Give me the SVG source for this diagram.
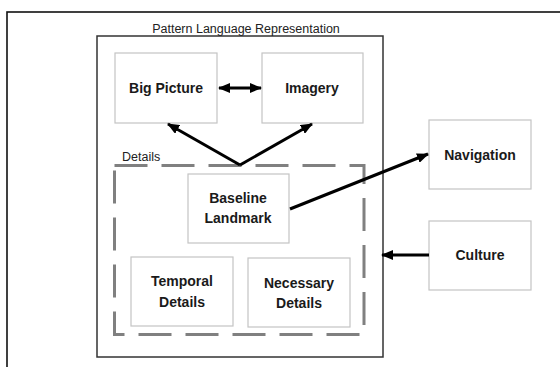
<svg xmlns="http://www.w3.org/2000/svg" width="560" height="367" viewBox="0 0 560 367">
<style>
.box{fill:#fff;stroke:#c4c4c4;stroke-width:1.2}
.lbl{font-family:"Liberation Sans",Arial,sans-serif;font-weight:bold;font-size:14px;fill:#1a1a1a;text-anchor:middle}
.small{font-family:"Liberation Sans",Arial,sans-serif;font-size:12.5px;fill:#222}
.conn{stroke:#000;stroke-width:3;fill:none}
</style>
<defs>
<marker id="ah" viewBox="0 0 12 10" refX="11" refY="5" markerWidth="12" markerHeight="10" markerUnits="userSpaceOnUse" orient="auto-start-reverse">
<path d="M0,0 L12,5 L0,10 Z" fill="#000"/>
</marker>
</defs>
<rect x="0" y="0" width="560" height="367" fill="#fff"/>
<g id="frame">
<rect x="7" y="12" width="600" height="400" fill="none" stroke="#111" stroke-width="1.6"/>
</g>
<g id="pattern-language">
<rect x="97" y="36" width="286" height="321" fill="none" stroke="#333" stroke-width="1.5"/>
<text class="small" x="246" y="33" text-anchor="middle">Pattern Language Representation</text>
</g>
<g id="details">
<path d="M114.5,165.5 H364 V334.5 H114.5 Z" fill="none" stroke="#808080" stroke-width="3" stroke-dasharray="33 14"/>
<text class="small" x="122" y="161">Details</text>
</g>
<g id="big-picture">
<rect class="box" x="115" y="53" width="102" height="70"/>
<text class="lbl" x="166" y="93">Big Picture</text>
</g>
<g id="imagery">
<rect class="box" x="262" y="53" width="101" height="70"/>
<text class="lbl" x="312" y="93">Imagery</text>
</g>
<g id="baseline-landmark">
<rect class="box" x="188" y="174" width="101" height="69"/>
<text class="lbl" x="238" y="203">Baseline</text>
<text class="lbl" x="238" y="223">Landmark</text>
</g>
<g id="temporal-details">
<rect class="box" x="131" y="257" width="102" height="69"/>
<text class="lbl" x="182" y="286">Temporal</text>
<text class="lbl" x="182" y="307">Details</text>
</g>
<g id="necessary-details">
<rect class="box" x="248" y="258" width="102" height="69"/>
<text class="lbl" x="299" y="288">Necessary</text>
<text class="lbl" x="299" y="308">Details</text>
</g>
<g id="navigation">
<rect class="box" x="429" y="120" width="102" height="69"/>
<text class="lbl" x="480" y="160">Navigation</text>
</g>
<g id="culture">
<rect class="box" x="429" y="221" width="102" height="69"/>
<text class="lbl" x="480" y="260">Culture</text>
</g>
<g id="connectors">
<line class="conn" x1="219" y1="88" x2="261" y2="88" marker-start="url(#ah)" marker-end="url(#ah)"/>
<line class="conn" x1="240" y1="165" x2="168" y2="124" marker-end="url(#ah)"/>
<line class="conn" x1="240" y1="165" x2="312" y2="124" marker-end="url(#ah)"/>
<line class="conn" x1="290" y1="209" x2="428" y2="154" marker-end="url(#ah)"/>
<line class="conn" x1="429" y1="255" x2="382" y2="255" marker-end="url(#ah)"/>
</g>
</svg>
